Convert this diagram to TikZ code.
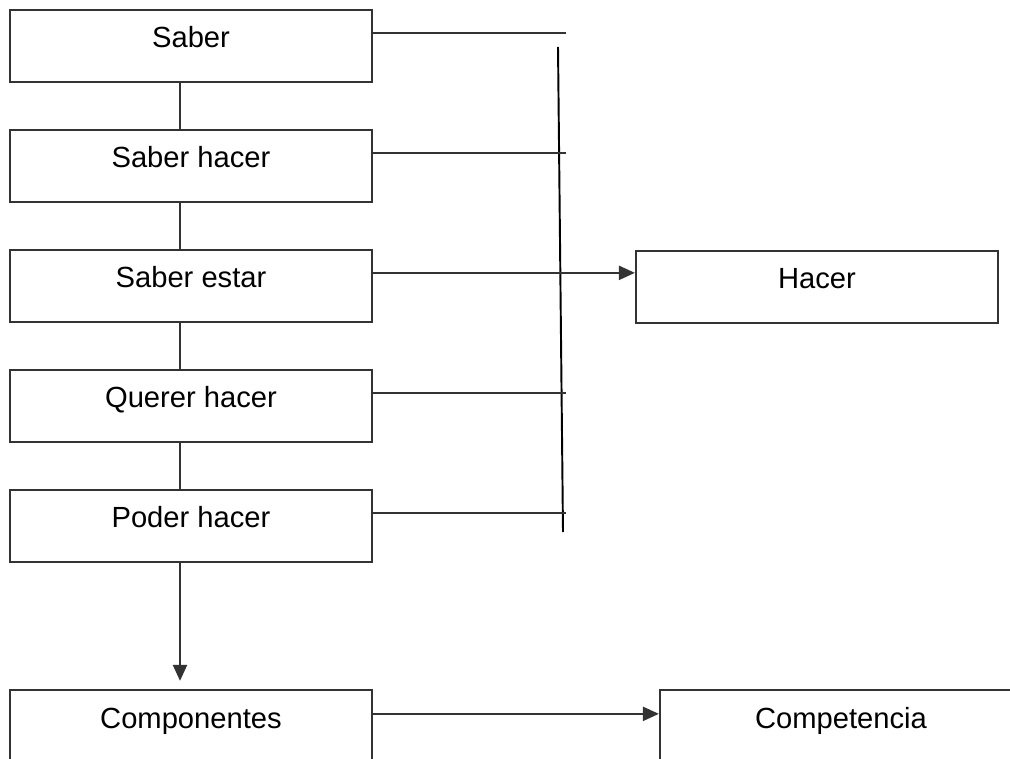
\documentclass[tikz,border=0pt]{standalone}
\usepackage{fontspec}
\setmainfont{Liberation Sans}
\usetikzlibrary{arrows.meta}
\begin{document}
\begin{tikzpicture}[x=0.02cm,y=-0.02cm,font=\fontsize{16.6}{20}\selectfont]
            \tikzstyle{caja} = [draw=black!80, line width=1.3pt, rectangle, minimum width=7.24cm, minimum height=1.44cm, text height=0.68cm, text depth=0.6cm, inner ysep=0.08cm]
            \tikzstyle{linea} = [black!80, line width=1.3pt]
            \tikzstyle{flecha} = [linea, -{Triangle[length=0.32cm,width=0.28cm]}]
            \useasboundingbox (0,0) rectangle (1010,759);
            
            % cajas
            \node[caja] (saber) at (191,46) {Saber};
            \node[caja] (shacer) at (191,166) {Saber hacer};
            \node[caja] (sestar) at (191,286) {Saber estar};
            \node[caja] (querer) at (191,406) {Querer hacer};
            \node[caja] (poder) at (191,526) {Poder hacer};
            \node[caja] (comp) at (191,726) {Componentes};
            \node[caja] (hacer) at (817,287) {Hacer};
            \node[caja] (compet) at (841,726) {Competencia};
            
            % barra vertical
            \coordinate (bartop) at (558,47);
            \coordinate (barbot) at (563,532);
            \draw[black, line width=1.1pt] (bartop) -- (barbot);
            
            % uniones entre cajas
            \draw[linea] ([xshift=-0.22cm]saber.south) -- ([xshift=-0.22cm]shacer.north);
            \draw[linea] ([xshift=-0.22cm]shacer.south) -- ([xshift=-0.22cm]sestar.north);
            \draw[linea] ([xshift=-0.22cm]sestar.south) -- ([xshift=-0.22cm]querer.north);
            \draw[linea] ([xshift=-0.22cm]querer.south) -- ([xshift=-0.22cm]poder.north);
            \draw[flecha] ([xshift=-0.22cm]poder.south) -- ([xshift=-0.22cm,yshift=0.16cm]comp.north);
            
            % lineas hacia la barra
            \draw[linea] ([yshift=-0.48cm]saber.north east) -- ++(193,0);
            \draw[linea] ([yshift=-0.48cm]shacer.north east) -- ++(193,0);
            \draw[linea] ([yshift=-0.48cm]querer.north east) -- ++(193,0);
            \draw[linea] ([yshift=-0.48cm]poder.north east) -- ++(193,0);
            
            % flechas
            \coordinate (e1) at ([yshift=-0.48cm]sestar.north east);
            \coordinate (c1) at ([yshift=-0.50cm]comp.north east);
            \draw[flecha] (e1) -- (e1 -| hacer.west);
            \draw[flecha] (c1) -- (c1 -| compet.west);
        \end{tikzpicture}
\end{document}
